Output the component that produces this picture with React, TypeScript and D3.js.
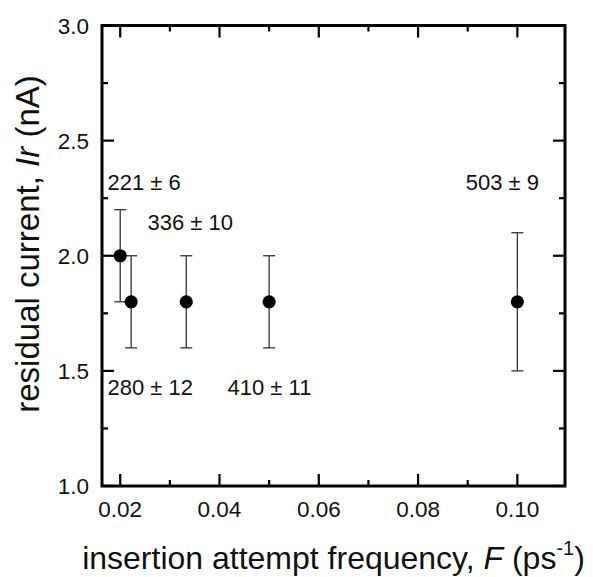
import React, { useEffect } from 'react';
import * as d3 from 'd3';

// insertion attempt frequency (ps^-1)
const freq = [0.02, 0.0222, 0.0333, 0.05, 0.1];
// residual current (nA)
const current = [2.0, 1.8, 1.8, 1.8, 1.8];
const errors = [0.2, 0.2, 0.2, 0.2, 0.3];

// annotations: text with anchor in data units (left / baseline)
const noteText = ['221 \u00b1 6', '336 \u00b1 10', '280 \u00b1 12', '410 \u00b1 11', '503 \u00b1 9'];
const noteX = [0.01744, 0.0255, 0.01744, 0.04162, 0.0896];
const noteY = [2.284, 2.111, 1.395, 1.395, 2.284];

const xTicks = [0.02, 0.04, 0.06, 0.08, 0.1];
const xMinor = [0.03, 0.05, 0.07, 0.09];
const yTicks = [1.0, 1.5, 2.0, 2.5, 3.0];
const yMinor = [1.25, 1.75, 2.25, 2.75];

const W = 593;
const H = 577;
const left = 102;
const right = 565;
const top = 25.5;
const bottom = 486;

const font = '"Liberation Sans", Arial, Helvetica, sans-serif';

export default function App() {
  useEffect(() => {
    document.body.style.margin = '0';
  }, []);

  const x = d3.scaleLinear().domain([0.01633, 0.1096]).range([left, right]);
  const y = d3.scaleLinear().domain([1, 3]).range([bottom, top]);

  const major = 12;
  const minor = 6;
  const cap = 6;

  return (
    <svg width={W} height={H} style={{ display: 'block', background: '#fff' }} fontFamily={font}>
      {/* error bars */}
      {freq.map((f, i) => (
        <g key={'e' + i} stroke="#333" strokeWidth={1.3}>
          <line x1={x(f)} x2={x(f)} y1={y(current[i] - errors[i])} y2={y(current[i] + errors[i])} />
          <line x1={x(f) - cap} x2={x(f) + cap} y1={y(current[i] - errors[i])} y2={y(current[i] - errors[i])} />
          <line x1={x(f) - cap} x2={x(f) + cap} y1={y(current[i] + errors[i])} y2={y(current[i] + errors[i])} />
        </g>
      ))}
      {freq.map((f, i) => (
        <circle key={'p' + i} cx={x(f)} cy={y(current[i])} r={6.6} fill="#000" />
      ))}

      {/* ticks, all pointing inward */}
      <g stroke="#000" strokeWidth={2.2}>
        {xTicks.map((t) => (
          <g key={'xt' + t}>
            <line x1={x(t)} x2={x(t)} y1={bottom} y2={bottom - major} />
            <line x1={x(t)} x2={x(t)} y1={top} y2={top + major} />
          </g>
        ))}
        {xMinor.map((t) => (
          <g key={'xm' + t}>
            <line x1={x(t)} x2={x(t)} y1={bottom} y2={bottom - minor} />
            <line x1={x(t)} x2={x(t)} y1={top} y2={top + minor} />
          </g>
        ))}
        {yTicks.map((t) => (
          <g key={'yt' + t}>
            <line x1={left} x2={left + major} y1={y(t)} y2={y(t)} />
            <line x1={right} x2={right - major} y1={y(t)} y2={y(t)} />
          </g>
        ))}
        {yMinor.map((t) => (
          <g key={'ym' + t}>
            <line x1={left} x2={left + minor} y1={y(t)} y2={y(t)} />
            <line x1={right} x2={right - minor} y1={y(t)} y2={y(t)} />
          </g>
        ))}
      </g>

      {/* frame */}
      <rect x={left} y={top} width={right - left} height={bottom - top} fill="none" stroke="#000" strokeWidth={3} />

      {/* tick labels */}
      {xTicks.map((t) => (
        <text key={'xl' + t} x={x(t)} y={517} textAnchor="middle" fontSize={22.5} fill="#111">
          {d3.format('.2f')(t)}
        </text>
      ))}
      {yTicks.map((t) => (
        <text key={'yl' + t} x={89} y={y(t) + 8} textAnchor="end" fontSize={22.5} fill="#111">
          {d3.format('.1f')(t)}
        </text>
      ))}

      {/* annotations */}
      {noteText.map((s, i) => (
        <text key={'n' + i} x={x(noteX[i])} y={y(noteY[i])} fontSize={22} fill="#111">
          {s}
        </text>
      ))}

      {/* axis titles */}
      <text x={(left + right) / 2} y={569} textAnchor="middle" fontSize={32} fill="#111">
        insertion attempt frequency, <tspan fontStyle="italic">F</tspan> (ps
        <tspan fontSize={20} dy={-14}>-1</tspan>
        <tspan dy={14}>)</tspan>
      </text>
      <text transform={`translate(39, ${244}) rotate(-90)`} textAnchor="middle" fontSize={33} fill="#111">
        residual current, <tspan fontStyle="italic">Ir</tspan> (nA)
      </text>
    </svg>
  );
}
